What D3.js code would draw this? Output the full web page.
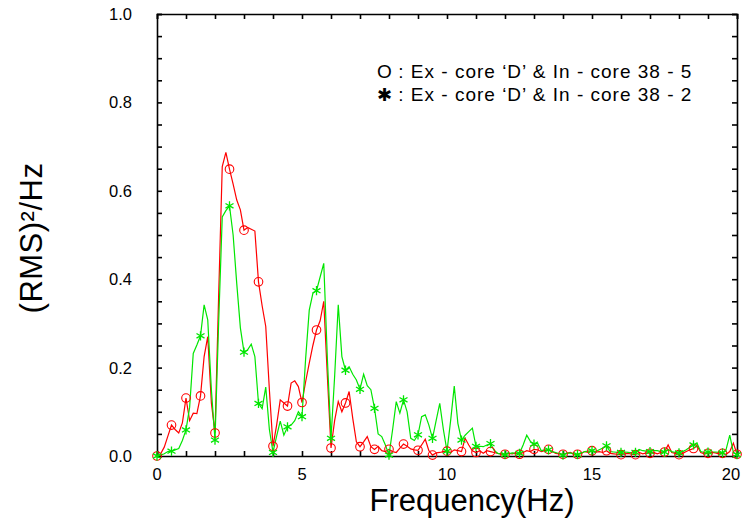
<!DOCTYPE html>
<html>
<head>
<meta charset="utf-8">
<title>Spectrum</title>
<style>
    body { margin: 0; background: #fff; font-family: Arial, "Liberation Sans", sans-serif; }
    svg { display: block; }
</style>
</head>
<body>
<script src="https://d3js.org/d3.v7.min.js"></script>
<script>
// frequency step of both spectra (Hz)
var step = 0.125;

// Ex-core 'D' & In-core 38-5 (red, circles)
var red = [
    0, 0.005, 0.02, 0.045,  0.070, 0.060, 0.052, 0.075,
    0.131, 0.080, 0.097, 0.096,  0.136, 0.225, 0.270, 0.120,
    0.052, 0.360, 0.655, 0.687,  0.649, 0.615, 0.579, 0.557,
    0.511, 0.517, 0.513, 0.509,  0.394, 0.340, 0.293, 0.150,
    0.022, 0.070, 0.127, 0.120,  0.113, 0.165, 0.170, 0.157,
    0.121, 0.168, 0.210, 0.250,  0.285, 0.306, 0.350, 0.180,
    0.018, 0.080, 0.123, 0.100,  0.120, 0.146, 0.085, 0.032,
    0.021, 0.032, 0.044, 0.021,  0.015, 0.022, 0.012, 0.010,
    0.015, 0.010, 0.008, 0.018,  0.027, 0.022, 0.016, 0.014,
    0.013, 0.025, 0.038, 0.012,  0.002, 0.007, 0.008, 0.010,
    0.011, 0.008, 0.014, 0.012,  0.010, 0.040, 0.025, 0.012,
    0.008, 0.012, 0.006, 0.012,  0.010, 0.008, 0.006, 0.005,
    0.004, 0.006, 0.005, 0.007,  0.004, 0.008, 0.012, 0.010,
    0.015, 0.014, 0.010, 0.012,  0.015, 0.010, 0.006, 0.005,
    0.004, 0.006, 0.008, 0.005,  0.004, 0.006, 0.010, 0.008,
    0.012, 0.009, 0.010, 0.008,  0.012, 0.006, 0.005, 0.004,
    0.003, 0.005, 0.006, 0.004,  0.003, 0.008, 0.005, 0.007,
    0.006, 0.008, 0.005, 0.008,  0.009, 0.025, 0.008, 0.006,
    0.003, 0.006, 0.010, 0.014,  0.017, 0.023, 0.008, 0.005,
    0.006, 0.008, 0.007, 0.005,  0.006, 0.004, 0.010, 0.029,
    0.004
];

// Ex-core 'D' & In-core 38-2 (green, asterisks)
var green = [
    0, 0.002, 0.005, 0.010,  0.011, 0.014, 0.017, 0.035,
    0.059, 0.110, 0.232, 0.251,  0.272, 0.342, 0.308, 0.150,
    0.036, 0.300, 0.541, 0.555,  0.566, 0.500, 0.390, 0.290,
    0.235, 0.240, 0.253, 0.225,  0.119, 0.107, 0.156, 0.060,
    0.008, 0.045, 0.079, 0.047,  0.066, 0.070, 0.080, 0.100,
    0.089, 0.220, 0.330, 0.368,  0.374, 0.405, 0.436, 0.220,
    0.040, 0.180, 0.342, 0.225,  0.194, 0.202, 0.185, 0.172,
    0.151, 0.185, 0.159, 0.150,  0.108, 0.050, 0.044, 0.025,
    0.002, 0.060, 0.123, 0.097,  0.127, 0.100, 0.040, 0.035,
    0.048, 0.089, 0.093, 0.070,  0.040, 0.080, 0.119, 0.060,
    0.011, 0.080, 0.158, 0.074,  0.036, 0.047, 0.055, 0.063,
    0.022, 0.022, 0.021, 0.025,  0.028, 0.013, 0.006, 0.004,
    0.003, 0.005, 0.007, 0.006,  0.006, 0.025, 0.047, 0.033,
    0.027, 0.029, 0.012, 0.014,  0.014, 0.010, 0.008, 0.005,
    0.002, 0.006, 0.007, 0.004,  0.003, 0.006, 0.010, 0.011,
    0.012, 0.010, 0.014, 0.018,  0.023, 0.010, 0.009, 0.008,
    0.008, 0.009, 0.008, 0.007,  0.008, 0.015, 0.012, 0.011,
    0.010, 0.012, 0.012, 0.010,  0.009, 0.015, 0.010, 0.008,
    0.007, 0.010, 0.014, 0.020,  0.025, 0.028, 0.010, 0.008,
    0.009, 0.009, 0.009, 0.008,  0.007, 0.015, 0.047, 0.008,
    0.003
];

var xTicks = [0, 5, 10, 15, 20];
var yTicks = [0, 0.2, 0.4, 0.6, 0.8, 1.0];
var legendLabels = [
    " : Ex - core \u2018D\u2019 & In - core 38 - 5",
    " : Ex - core \u2018D\u2019 & In - core 38 - 2"
];

var width = 744, height = 522;
var mLeft = 157, mRight = 737, mTop = 14, mBottom = 456;

var svg = d3.select("body").append("svg")
    .attr("width", width)
    .attr("height", height);

var x = d3.scaleLinear().domain([0, 20]).range([mLeft, mRight]);
var y = d3.scaleLinear().domain([0, 1]).range([mBottom, mTop]);

var minorX = d3.range(0, 21, 1);
var minorY = d3.range(0, 1.0001, 0.05);

// frame with inward ticks on all four sides
var axes = svg.append("g");
axes.append("g").attr("transform", "translate(0," + mBottom + ")")
    .call(d3.axisTop(x).tickValues(minorX).tickSize(5).tickFormat(""));
axes.append("g").attr("transform", "translate(0," + mTop + ")")
    .call(d3.axisBottom(x).tickValues(minorX).tickSize(5).tickFormat(""));
axes.append("g").attr("transform", "translate(" + mLeft + ",0)")
    .call(d3.axisRight(y).tickValues(minorY).tickSize(5).tickFormat(""));
axes.append("g").attr("transform", "translate(" + mRight + ",0)")
    .call(d3.axisLeft(y).tickValues(minorY).tickSize(5).tickFormat(""));
axes.selectAll(".domain").attr("stroke", "#000").attr("stroke-width", 1.6);
axes.selectAll(".tick line").attr("stroke", "#000").attr("stroke-width", 1.6);

// tick labels (the last one is pulled in so it stays on the page)
svg.append("g").selectAll("text")
    .data(xTicks).enter().append("text")
    .attr("x", d => Math.min(x(d), 731))
    .attr("y", 480)
    .attr("text-anchor", "middle")
    .style("font-size", "16.5px")
    .text(d => d);

svg.append("g").selectAll("text")
    .data(yTicks).enter().append("text")
    .attr("x", 132)
    .attr("y", d => y(d) + 6)
    .attr("text-anchor", "end")
    .style("font-size", "16.5px")
    .text(d => d.toFixed(1));

// axis titles
svg.append("text")
    .attr("x", 472)
    .attr("y", 511)
    .attr("text-anchor", "middle")
    .style("font-size", "31px")
    .text("Frequency(Hz)");

svg.append("text")
    .attr("transform", "translate(42,238) rotate(-90)")
    .attr("text-anchor", "middle")
    .style("font-size", "31px")
    .style("letter-spacing", "0.5px")
    .text("(RMS)\u00b2/Hz");

// lines
var line = d3.line()
    .x((d, i) => x(i * step))
    .y(d => y(d));

svg.append("path").datum(red)
    .attr("d", line)
    .attr("fill", "none")
    .attr("stroke", "#ff0000")
    .attr("stroke-width", 1.2);

svg.append("path").datum(green)
    .attr("d", line)
    .attr("fill", "none")
    .attr("stroke", "#00e600")
    .attr("stroke-width", 1.2);

// markers every 0.5 Hz
var marked = d => d.filter((v, i) => i % 4 === 0).map((v, k) => ({ f: k * 0.5, v: v }));

svg.append("g").selectAll("circle")
    .data(marked(red)).enter().append("circle")
    .attr("cx", d => x(d.f))
    .attr("cy", d => y(d.v))
    .attr("r", 4.3)
    .attr("fill", "none")
    .attr("stroke", "#ff0000")
    .attr("stroke-width", 1.1);

var star = d3.symbol().type(d3.symbolAsterisk).size(60);
svg.append("g").selectAll("path")
    .data(marked(green)).enter().append("path")
    .attr("transform", d => "translate(" + x(d.f) + "," + y(d.v) + ")")
    .attr("d", star)
    .attr("fill", "none")
    .attr("stroke", "#00e600")
    .attr("stroke-width", 1.3);

// legend
var legend = svg.append("g").style("font-size", "19px");
legend.append("text").attr("x", 377).attr("y", 78).text("O");
legend.append("text").attr("x", 377).attr("y", 101)
    .style("font-family", "DejaVu Sans").style("font-size", "18px").text("\u2731");
legend.selectAll(".lab")
    .data(legendLabels).enter().append("text")
    .attr("class", "lab")
    .attr("x", 392)
    .attr("y", (d, i) => 78 + i * 23)
    .style("letter-spacing", "1px")
    .style("white-space", "pre")
    .text(d => d);
</script>
</body>
</html>
